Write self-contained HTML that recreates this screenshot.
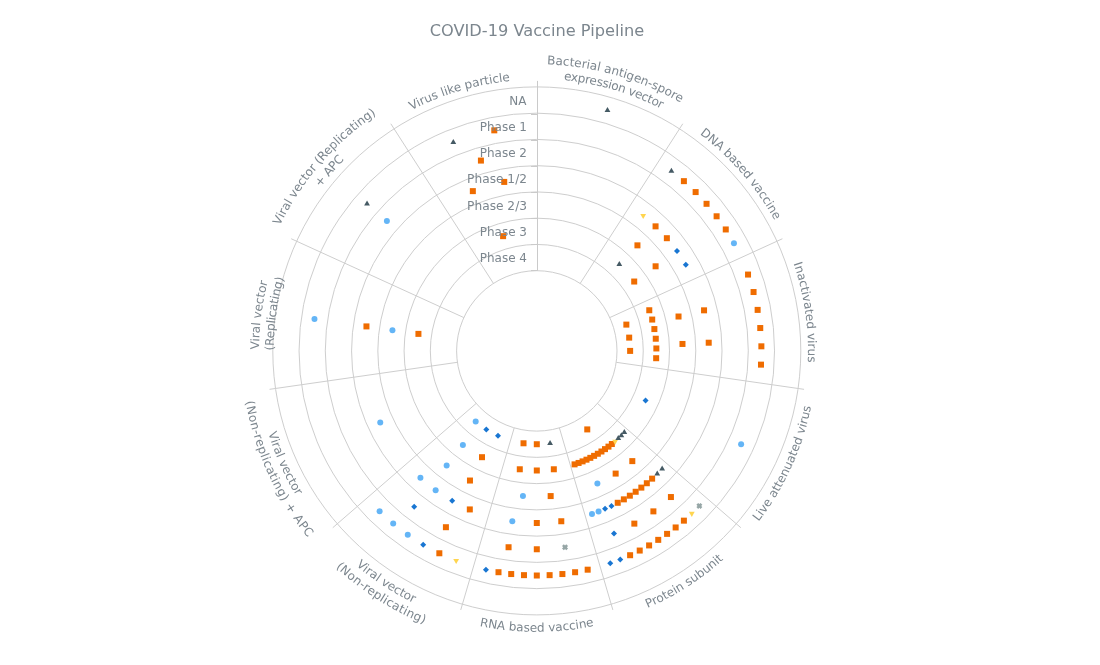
<!DOCTYPE html>
<html lang="en"><head><meta charset="utf-8"><title>COVID-19 Vaccine Pipeline</title>
<style>html,body{margin:0;padding:0;background:#fff;overflow:hidden}body{width:1100px;height:665px}</style></head>
<body>
<svg width="1100" height="665" viewBox="0 0 1100 665" style="display:block">
<rect width="1100" height="665" fill="#ffffff"/>
<text x="537" y="35.5" text-anchor="middle" font-family='"DejaVu Sans", "Liberation Sans", sans-serif' font-size="16" textLength="214.5" lengthAdjust="spacingAndGlyphs" fill="#7c868e">COVID-19 Vaccine Pipeline</text>
<g fill="none" stroke="#cecece" stroke-width="1">
<circle cx="536.8" cy="350.9" r="264.00"/>
<circle cx="536.8" cy="350.9" r="237.74"/>
<circle cx="536.8" cy="350.9" r="211.49"/>
<circle cx="536.8" cy="350.9" r="185.23"/>
<circle cx="536.8" cy="350.9" r="158.97"/>
<circle cx="536.8" cy="350.9" r="132.71"/>
<circle cx="536.8" cy="350.9" r="106.46"/>
<circle cx="536.8" cy="350.9" r="80.20"/>
<path d="M580.16 283.43L682.77 123.76"/>
<path d="M609.75 317.58L782.40 238.74"/>
<path d="M616.18 362.31L804.05 389.33"/>
<path d="M597.41 403.42L740.85 527.71"/>
<path d="M559.39 427.85L612.87 609.96"/>
<path d="M514.21 427.85L460.73 609.96"/>
<path d="M476.19 403.42L332.75 527.71"/>
<path d="M457.42 362.31L269.55 389.33"/>
<path d="M463.85 317.58L291.20 238.74"/>
<path d="M493.44 283.43L390.83 123.76"/>
</g>
<g stroke="#cacaca" stroke-width="1" fill="none">
<path d="M537.5 80.90L537.5 270.70"/>
<path d="M531 114.50L537.5 114.50"/>
<path d="M531 140.50L537.5 140.50"/>
<path d="M531 166.50L537.5 166.50"/>
<path d="M531 192.50L537.5 192.50"/>
<path d="M531 218.50L537.5 218.50"/>
<path d="M531 244.50L537.5 244.50"/>
<path d="M531 270.50L537.5 270.50"/>
</g>
<defs><path id="lp0_0" d="M279.17 224.89A286.80 286.80 0 0 1 822.00 381.20"/><path id="lp0_1" d="M293.00 229.85A272.20 272.20 0 0 1 807.30 381.27"/><path id="lp1_0" d="M397.49 118.21A271.20 271.20 0 0 1 747.29 521.91"/><path id="lp2_0" d="M545.40 79.84A271.20 271.20 0 0 1 621.42 608.56"/><path id="lp3_0" d="M466.50 621.83A279.90 279.90 0 0 0 695.52 120.35"/><path id="lp4_0" d="M330.71 540.30A279.90 279.90 0 0 0 795.24 243.41"/><path id="lp5_0" d="M260.17 399.68A280.90 280.90 0 0 0 813.43 399.68"/><path id="lp6_0" d="M278.69 240.83A280.60 280.60 0 0 0 741.70 542.61"/><path id="lp6_1" d="M264.27 237.18A295.30 295.30 0 0 0 754.00 550.97"/><path id="lp7_0" d="M379.58 118.12A280.90 280.90 0 0 0 604.92 623.41"/><path id="lp7_1" d="M369.11 107.59A295.50 295.50 0 0 0 611.16 636.89"/><path id="lp8_0" d="M453.93 616.05A277.80 277.80 0 0 1 523.99 73.40"/><path id="lp8_1" d="M455.15 601.11A263.20 263.20 0 0 1 527.95 87.85"/><path id="lp9_0" d="M314.98 531.11A285.80 285.80 0 0 1 683.61 105.69"/><path id="lp9_1" d="M326.31 521.91A271.20 271.20 0 0 1 676.11 118.21"/><path id="lp10_0" d="M267.38 381.95A271.20 271.20 0 0 1 779.35 229.57"/></defs>
<g font-family='"DejaVu Sans", "Liberation Sans", sans-serif' fill="#7c868e" text-anchor="middle">
<text font-size="12.0"><textPath href="#lp0_0" startOffset="50%">Bacterial antigen-spore</textPath></text>
<text font-size="12.0" letter-spacing="-0.271"><textPath href="#lp0_1" startOffset="50%">expression vector</textPath></text>
<text font-size="12.0" letter-spacing="-0.076"><textPath href="#lp1_0" startOffset="50%">DNA based vaccine</textPath></text>
<text font-size="12.0"><textPath href="#lp2_0" startOffset="50%">Inactivated virus</textPath></text>
<text font-size="12.0"><textPath href="#lp3_0" startOffset="50%">Live attenuated virus</textPath></text>
<text font-size="12.0"><textPath href="#lp4_0" startOffset="50%">Protein subunit</textPath></text>
<text font-size="12.0"><textPath href="#lp5_0" startOffset="50%">RNA based vaccine</textPath></text>
<text font-size="12.0"><textPath href="#lp6_0" startOffset="50%">Viral vector</textPath></text>
<text font-size="12.0" letter-spacing="0.271"><textPath href="#lp6_1" startOffset="50%">(Non-replicating)</textPath></text>
<text font-size="12.0"><textPath href="#lp7_0" startOffset="50%">Viral vector</textPath></text>
<text font-size="12.0" letter-spacing="0.378"><textPath href="#lp7_1" startOffset="50%">(Non-replicating) + APC</textPath></text>
<text font-size="12.0"><textPath href="#lp8_0" startOffset="50%">Viral vector</textPath></text>
<text font-size="12.0" letter-spacing="-0.221"><textPath href="#lp8_1" startOffset="50%">(Replicating)</textPath></text>
<text font-size="12.0"><textPath href="#lp9_0" startOffset="50%">Viral vector (Replicating)</textPath></text>
<text font-size="12.0" letter-spacing="-0.252"><textPath href="#lp9_1" startOffset="50%">+ APC</textPath></text>
<text font-size="12.0"><textPath href="#lp10_0" startOffset="50%">Virus like particle</textPath></text>
</g>
<g>
<circle cx="733.94" cy="243.25" r="3.0" fill="#64b5f6"/>
<circle cx="741.12" cy="444.21" r="3.0" fill="#64b5f6"/>
<circle cx="598.58" cy="511.53" r="3.0" fill="#64b5f6"/>
<circle cx="591.98" cy="513.91" r="3.0" fill="#64b5f6"/>
<circle cx="597.39" cy="483.56" r="3.0" fill="#64b5f6"/>
<circle cx="512.31" cy="521.25" r="3.0" fill="#64b5f6"/>
<circle cx="522.94" cy="496.08" r="3.0" fill="#64b5f6"/>
<circle cx="407.76" cy="534.75" r="3.0" fill="#64b5f6"/>
<circle cx="393.20" cy="523.62" r="3.0" fill="#64b5f6"/>
<circle cx="379.60" cy="511.34" r="3.0" fill="#64b5f6"/>
<circle cx="435.64" cy="490.13" r="3.0" fill="#64b5f6"/>
<circle cx="420.43" cy="477.69" r="3.0" fill="#64b5f6"/>
<circle cx="446.65" cy="465.54" r="3.0" fill="#64b5f6"/>
<circle cx="462.88" cy="444.90" r="3.0" fill="#64b5f6"/>
<circle cx="475.68" cy="421.43" r="3.0" fill="#64b5f6"/>
<circle cx="380.25" cy="422.39" r="3.0" fill="#64b5f6"/>
<circle cx="314.47" cy="318.93" r="3.0" fill="#64b5f6"/>
<circle cx="392.44" cy="330.14" r="3.0" fill="#64b5f6"/>
<circle cx="386.89" cy="221.00" r="3.0" fill="#64b5f6"/>
<path d="M673.99 251.07L676.99 248.07L679.99 251.07L676.99 254.07Z" fill="#1976d2"/>
<path d="M682.84 264.85L685.84 261.85L688.84 264.85L685.84 267.85Z" fill="#1976d2"/>
<path d="M642.58 400.58L645.58 397.58L648.58 400.58L645.58 403.58Z" fill="#1976d2"/>
<path d="M617.28 559.42L620.28 556.42L623.28 559.42L620.28 562.42Z" fill="#1976d2"/>
<path d="M607.26 563.16L610.26 560.16L613.26 563.16L610.26 566.16Z" fill="#1976d2"/>
<path d="M611.01 533.61L614.01 530.61L617.01 533.61L614.01 536.61Z" fill="#1976d2"/>
<path d="M608.47 505.96L611.47 502.96L614.47 505.96L611.47 508.96Z" fill="#1976d2"/>
<path d="M602.08 508.87L605.08 505.87L608.08 508.87L605.08 511.87Z" fill="#1976d2"/>
<path d="M482.93 569.68L485.93 566.68L488.93 569.68L485.93 572.68Z" fill="#1976d2"/>
<path d="M420.17 544.65L423.17 541.65L426.17 544.65L423.17 547.65Z" fill="#1976d2"/>
<path d="M411.18 506.82L414.18 503.82L417.18 506.82L414.18 509.82Z" fill="#1976d2"/>
<path d="M449.17 500.76L452.17 497.76L455.17 500.76L452.17 503.76Z" fill="#1976d2"/>
<path d="M495.03 435.79L498.03 432.79L501.03 435.79L498.03 438.79Z" fill="#1976d2"/>
<path d="M483.34 429.41L486.34 426.41L489.34 429.41L486.34 432.41Z" fill="#1976d2"/>
<rect x="680.89" y="178.15" width="6.0" height="6.0" fill="#ef6c00"/>
<rect x="692.63" y="189.07" width="6.0" height="6.0" fill="#ef6c00"/>
<rect x="703.55" y="200.81" width="6.0" height="6.0" fill="#ef6c00"/>
<rect x="713.61" y="213.29" width="6.0" height="6.0" fill="#ef6c00"/>
<rect x="722.76" y="226.46" width="6.0" height="6.0" fill="#ef6c00"/>
<rect x="652.56" y="223.35" width="6.0" height="6.0" fill="#ef6c00"/>
<rect x="663.86" y="235.20" width="6.0" height="6.0" fill="#ef6c00"/>
<rect x="634.44" y="242.35" width="6.0" height="6.0" fill="#ef6c00"/>
<rect x="652.60" y="263.30" width="6.0" height="6.0" fill="#ef6c00"/>
<rect x="631.21" y="278.53" width="6.0" height="6.0" fill="#ef6c00"/>
<rect x="745.04" y="271.56" width="6.0" height="6.0" fill="#ef6c00"/>
<rect x="750.56" y="289.03" width="6.0" height="6.0" fill="#ef6c00"/>
<rect x="754.64" y="306.89" width="6.0" height="6.0" fill="#ef6c00"/>
<rect x="757.25" y="325.03" width="6.0" height="6.0" fill="#ef6c00"/>
<rect x="758.37" y="343.32" width="6.0" height="6.0" fill="#ef6c00"/>
<rect x="757.99" y="361.64" width="6.0" height="6.0" fill="#ef6c00"/>
<rect x="701.05" y="307.33" width="6.0" height="6.0" fill="#ef6c00"/>
<rect x="705.71" y="339.71" width="6.0" height="6.0" fill="#ef6c00"/>
<rect x="675.53" y="313.52" width="6.0" height="6.0" fill="#ef6c00"/>
<rect x="679.48" y="340.96" width="6.0" height="6.0" fill="#ef6c00"/>
<rect x="646.27" y="307.25" width="6.0" height="6.0" fill="#ef6c00"/>
<rect x="649.21" y="316.56" width="6.0" height="6.0" fill="#ef6c00"/>
<rect x="651.38" y="326.07" width="6.0" height="6.0" fill="#ef6c00"/>
<rect x="652.76" y="335.72" width="6.0" height="6.0" fill="#ef6c00"/>
<rect x="653.36" y="345.46" width="6.0" height="6.0" fill="#ef6c00"/>
<rect x="653.16" y="355.21" width="6.0" height="6.0" fill="#ef6c00"/>
<rect x="623.35" y="321.61" width="6.0" height="6.0" fill="#ef6c00"/>
<rect x="626.18" y="334.62" width="6.0" height="6.0" fill="#ef6c00"/>
<rect x="627.13" y="347.90" width="6.0" height="6.0" fill="#ef6c00"/>
<rect x="680.89" y="517.65" width="6.0" height="6.0" fill="#ef6c00"/>
<rect x="672.65" y="524.46" width="6.0" height="6.0" fill="#ef6c00"/>
<rect x="664.09" y="530.87" width="6.0" height="6.0" fill="#ef6c00"/>
<rect x="655.24" y="536.86" width="6.0" height="6.0" fill="#ef6c00"/>
<rect x="646.11" y="542.42" width="6.0" height="6.0" fill="#ef6c00"/>
<rect x="636.72" y="547.55" width="6.0" height="6.0" fill="#ef6c00"/>
<rect x="627.11" y="552.22" width="6.0" height="6.0" fill="#ef6c00"/>
<rect x="667.92" y="494.04" width="6.0" height="6.0" fill="#ef6c00"/>
<rect x="650.39" y="508.37" width="6.0" height="6.0" fill="#ef6c00"/>
<rect x="631.34" y="520.62" width="6.0" height="6.0" fill="#ef6c00"/>
<rect x="649.13" y="475.64" width="6.0" height="6.0" fill="#ef6c00"/>
<rect x="643.82" y="480.24" width="6.0" height="6.0" fill="#ef6c00"/>
<rect x="638.34" y="484.61" width="6.0" height="6.0" fill="#ef6c00"/>
<rect x="632.67" y="488.76" width="6.0" height="6.0" fill="#ef6c00"/>
<rect x="626.84" y="492.68" width="6.0" height="6.0" fill="#ef6c00"/>
<rect x="620.86" y="496.35" width="6.0" height="6.0" fill="#ef6c00"/>
<rect x="614.73" y="499.78" width="6.0" height="6.0" fill="#ef6c00"/>
<rect x="629.31" y="458.12" width="6.0" height="6.0" fill="#ef6c00"/>
<rect x="612.65" y="470.59" width="6.0" height="6.0" fill="#ef6c00"/>
<rect x="608.84" y="441.01" width="6.0" height="6.0" fill="#ef6c00"/>
<rect x="605.47" y="443.63" width="6.0" height="6.0" fill="#ef6c00"/>
<rect x="602.00" y="446.13" width="6.0" height="6.0" fill="#ef6c00"/>
<rect x="598.45" y="448.50" width="6.0" height="6.0" fill="#ef6c00"/>
<rect x="594.82" y="450.75" width="6.0" height="6.0" fill="#ef6c00"/>
<rect x="591.11" y="452.86" width="6.0" height="6.0" fill="#ef6c00"/>
<rect x="587.33" y="454.84" width="6.0" height="6.0" fill="#ef6c00"/>
<rect x="583.48" y="456.68" width="6.0" height="6.0" fill="#ef6c00"/>
<rect x="579.56" y="458.38" width="6.0" height="6.0" fill="#ef6c00"/>
<rect x="575.59" y="459.95" width="6.0" height="6.0" fill="#ef6c00"/>
<rect x="571.57" y="461.37" width="6.0" height="6.0" fill="#ef6c00"/>
<rect x="584.26" y="426.41" width="6.0" height="6.0" fill="#ef6c00"/>
<rect x="584.67" y="566.68" width="6.0" height="6.0" fill="#ef6c00"/>
<rect x="572.10" y="569.22" width="6.0" height="6.0" fill="#ef6c00"/>
<rect x="559.40" y="571.05" width="6.0" height="6.0" fill="#ef6c00"/>
<rect x="546.62" y="572.15" width="6.0" height="6.0" fill="#ef6c00"/>
<rect x="533.80" y="572.51" width="6.0" height="6.0" fill="#ef6c00"/>
<rect x="520.98" y="572.15" width="6.0" height="6.0" fill="#ef6c00"/>
<rect x="508.20" y="571.05" width="6.0" height="6.0" fill="#ef6c00"/>
<rect x="495.50" y="569.22" width="6.0" height="6.0" fill="#ef6c00"/>
<rect x="533.80" y="546.26" width="6.0" height="6.0" fill="#ef6c00"/>
<rect x="505.57" y="544.24" width="6.0" height="6.0" fill="#ef6c00"/>
<rect x="558.29" y="518.25" width="6.0" height="6.0" fill="#ef6c00"/>
<rect x="533.80" y="520.00" width="6.0" height="6.0" fill="#ef6c00"/>
<rect x="547.66" y="493.08" width="6.0" height="6.0" fill="#ef6c00"/>
<rect x="550.82" y="466.27" width="6.0" height="6.0" fill="#ef6c00"/>
<rect x="533.80" y="467.49" width="6.0" height="6.0" fill="#ef6c00"/>
<rect x="516.78" y="466.27" width="6.0" height="6.0" fill="#ef6c00"/>
<rect x="533.80" y="441.23" width="6.0" height="6.0" fill="#ef6c00"/>
<rect x="520.52" y="440.28" width="6.0" height="6.0" fill="#ef6c00"/>
<rect x="436.34" y="550.27" width="6.0" height="6.0" fill="#ef6c00"/>
<rect x="442.91" y="524.21" width="6.0" height="6.0" fill="#ef6c00"/>
<rect x="466.81" y="506.43" width="6.0" height="6.0" fill="#ef6c00"/>
<rect x="466.97" y="477.53" width="6.0" height="6.0" fill="#ef6c00"/>
<rect x="479.00" y="454.19" width="6.0" height="6.0" fill="#ef6c00"/>
<rect x="363.45" y="323.41" width="6.0" height="6.0" fill="#ef6c00"/>
<rect x="415.43" y="330.88" width="6.0" height="6.0" fill="#ef6c00"/>
<rect x="491.29" y="127.34" width="6.0" height="6.0" fill="#ef6c00"/>
<rect x="477.92" y="157.58" width="6.0" height="6.0" fill="#ef6c00"/>
<rect x="469.84" y="188.13" width="6.0" height="6.0" fill="#ef6c00"/>
<rect x="501.23" y="178.91" width="6.0" height="6.0" fill="#ef6c00"/>
<rect x="500.11" y="233.16" width="6.0" height="6.0" fill="#ef6c00"/>
<path d="M643.19 219.12L646.09 214.02L640.29 214.02Z" fill="#ffd54f"/>
<path d="M691.80 516.96L694.70 511.86L688.90 511.86Z" fill="#ffd54f"/>
<path d="M615.11 444.78L618.01 439.68L612.21 439.68Z" fill="#ffd54f"/>
<path d="M456.16 564.04L459.06 558.94L453.26 558.94Z" fill="#ffd54f"/>
<path d="M607.48 106.89L610.38 111.89L604.58 111.89Z" fill="#455a64"/>
<path d="M671.41 167.79L674.31 172.79L668.51 172.79Z" fill="#455a64"/>
<path d="M619.32 261.05L622.22 266.05L616.42 266.05Z" fill="#455a64"/>
<path d="M662.16 465.51L665.06 470.51L659.26 470.51Z" fill="#455a64"/>
<path d="M657.25 470.53L660.15 475.53L654.35 475.53Z" fill="#455a64"/>
<path d="M624.32 429.09L627.22 434.09L621.42 434.09Z" fill="#455a64"/>
<path d="M621.36 432.16L624.26 437.16L618.46 437.16Z" fill="#455a64"/>
<path d="M618.29 435.12L621.19 440.12L615.39 440.12Z" fill="#455a64"/>
<path d="M550.08 439.98L552.98 444.98L547.18 444.98Z" fill="#455a64"/>
<path d="M367.05 200.51L369.95 205.51L364.15 205.51Z" fill="#455a64"/>
<path d="M453.32 139.08L456.22 144.08L450.42 144.08Z" fill="#455a64"/>
<path d="M696.36 504.70L698.16 502.90L699.36 504.10L700.56 502.90L702.36 504.70L701.16 505.90L702.36 507.10L700.56 508.90L699.36 507.70L698.16 508.90L696.36 507.10L697.56 505.90Z" fill="#96a6a6"/>
<path d="M562.03 546.04L563.83 544.24L565.03 545.44L566.23 544.24L568.03 546.04L566.83 547.24L568.03 548.44L566.23 550.24L565.03 549.04L563.83 550.24L562.03 548.44L563.23 547.24Z" fill="#96a6a6"/>
</g>
<g font-family='"DejaVu Sans", "Liberation Sans", sans-serif' font-size="12" fill="#7c868e" text-anchor="end">
<text x="526.4" y="104.53" font-size="12">NA</text>
<text x="527" y="130.79" font-size="12">Phase 1</text>
<text x="527" y="157.04" font-size="12">Phase 2</text>
<text x="527" y="183.30" font-size="12.2">Phase 1/2</text>
<text x="527" y="209.56" font-size="12.2">Phase 2/3</text>
<text x="527" y="235.81" font-size="12">Phase 3</text>
<text x="527" y="262.07" font-size="12">Phase 4</text>
</g>
</svg>
</body></html>
